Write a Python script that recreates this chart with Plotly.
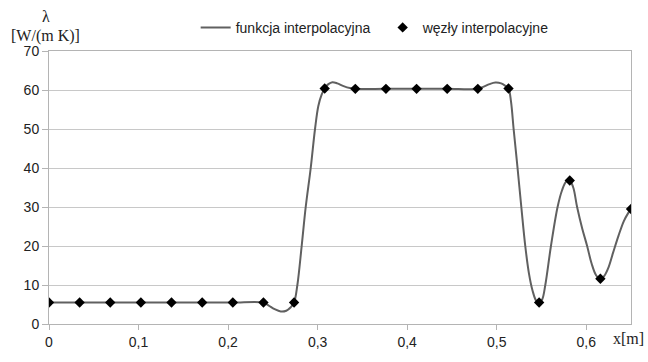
import plotly.graph_objects as go

# interpolation nodes
node_x = [0.0, 0.0342, 0.0684, 0.1026, 0.1368, 0.1711, 0.2053, 0.2395, 0.2737, 0.3079,
          0.3421, 0.3763, 0.4105, 0.4447, 0.4789, 0.5132, 0.5474, 0.5816, 0.6158, 0.65]
node_y = [5.5, 5.5, 5.5, 5.5, 5.5, 5.5, 5.5, 5.5, 5.5, 60.4,
          60.3, 60.3, 60.3, 60.3, 60.3, 60.4, 5.5, 36.8, 11.6, 29.5]

# interpolating function as drawn
curve_x = [0.0, 0.0342, 0.0684, 0.1026, 0.1368, 0.1711, 0.2053, 0.2395, 0.2450, 0.2520,
           0.2588, 0.2650, 0.2700, 0.2737, 0.2774, 0.2822, 0.2867, 0.2923, 0.2971, 0.3008,
           0.3045, 0.3079, 0.3120, 0.3165, 0.3220, 0.3290, 0.3360, 0.3421, 0.3763, 0.4105,
           0.4447, 0.4789, 0.4850, 0.4920, 0.4985, 0.5050, 0.5100, 0.5132, 0.5160, 0.5189,
           0.5233, 0.5275, 0.5319, 0.5360, 0.5400, 0.5440, 0.5474, 0.5508, 0.5543, 0.5606,
           0.5680, 0.5730, 0.5775, 0.5816, 0.5855, 0.5898, 0.5955, 0.6010, 0.6060, 0.6110,
           0.6158, 0.6200, 0.6250, 0.6300, 0.6360, 0.6420, 0.6465, 0.65]
curve_y = [5.5, 5.5, 5.5, 5.5, 5.5, 5.5, 5.5, 5.5, 4.8, 3.8,
           3.2, 3.4, 4.3, 5.5, 10.0, 20.0, 30.0, 40.0, 50.0, 55.9,
           58.8, 60.4, 61.5, 62.0, 61.7, 61.0, 60.5, 60.3, 60.3, 60.3,
           60.3, 60.3, 60.8, 61.5, 61.9, 61.7, 61.0, 60.4, 57.0, 50.0,
           40.0, 30.0, 20.0, 13.0, 8.6, 6.0, 5.4, 6.3, 10.0, 20.0,
           30.0, 34.3, 36.5, 36.8, 35.0, 30.0, 24.5, 20.0, 15.5, 12.5,
           11.5, 12.3, 14.6, 18.3, 22.6, 26.4, 28.3, 29.5]

x_ticks = [0, 0.1, 0.2, 0.3, 0.4, 0.5, 0.6]
y_ticks = [0, 10, 20, 30, 40, 50, 60, 70]

fig = go.Figure()
fig.add_trace(go.Scatter(
    x=curve_x, y=curve_y, mode="lines", name="funkcja interpolacyjna",
    line=dict(color="#606060", width=2, shape="spline", smoothing=1.0),
))
fig.add_trace(go.Scatter(
    x=node_x, y=node_y, mode="markers", name="węzły interpolacyjne",
    marker=dict(symbol="diamond", size=8, color="#000000"),
))

fig.update_layout(
    width=648, height=362,
    margin=dict(l=49, r=17, t=51, b=25.5),
    paper_bgcolor="white", plot_bgcolor="white",
    separators=", ",
    font=dict(family="Liberation Sans, Arial, sans-serif", size=14, color="#222222"),
    showlegend=True,
    legend=dict(orientation="h", x=0.252, xanchor="left", y=1.085, yanchor="middle",
                font=dict(size=14, color="#222222"), bgcolor="rgba(0,0,0,0)",
                entrywidth=142, entrywidthmode="pixels", itemwidth=30,
                traceorder="normal"),
    xaxis=dict(range=[0, 0.65], tickvals=x_ticks, showgrid=False, zeroline=False,
               showline=True, linecolor="#b4b4b4", linewidth=1, mirror=True,
               ticks="outside", ticklen=5, tickcolor="#b4b4b4"),
    yaxis=dict(range=[0, 70], tickvals=y_ticks, showgrid=True, gridcolor="#c8c8c8",
               gridwidth=1, zeroline=False, showline=True, linecolor="#b4b4b4",
               linewidth=1, mirror=True, ticks="outside", ticklen=6, tickcolor="#b4b4b4"),
    annotations=[
        dict(text="λ", x=46, y=15, xref="paper", yref="paper", showarrow=False,
             font=dict(family="Liberation Serif, Times New Roman, serif", size=16, color="#222222")),
        dict(text="[W/(m K)]", x=45, y=35, xref="paper", yref="paper", showarrow=False,
             font=dict(family="Liberation Serif, Times New Roman, serif", size=16, color="#222222")),
        dict(text="x[m]", x=628, y=352, xref="paper", yref="paper", showarrow=False,
             font=dict(family="Liberation Serif, Times New Roman, serif", size=16, color="#222222")),
    ],
)

# convert pixel positions of the unit labels to paper coordinates
pl, pr, pt, pb = 49, 648 - 17, 51, 362 - 25.5
for a in fig.layout.annotations:
    a.x = (a.x - pl) / (pr - pl)
    a.y = (pb - a.y) / (pb - pt)
    a.xanchor = "center"
    a.yanchor = "middle"

fig.write_html("out.html")
